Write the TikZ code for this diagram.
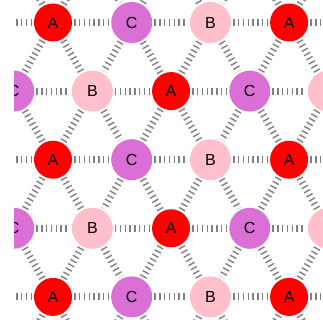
\documentclass[tikz,border=0pt]{standalone}
\usepackage{fontspec}
\setmainfont{Liberation Sans}
\definecolor{cA}{HTML}{FF0000}
\definecolor{cB}{HTML}{FFC0CB}
\definecolor{cC}{HTML}{DA70D6}
\definecolor{linkgray}{HTML}{808080}
\pgfdeclarelayer{background}
\pgfsetlayers{background,main}
\begin{document}
\begin{tikzpicture}[x=1pt,y=-1pt,
  site/.style={circle,inner sep=0pt,font=\fontsize{16}{16}\selectfont},
  siteA/.style={site,fill=cA,minimum size=38pt},
  siteB/.style={site,fill=cB,minimum size=41pt},
  siteC/.style={site,fill=cC,minimum size=41pt},
  link/.style={draw=linkgray,line width=7pt,dash pattern=on 1.4pt off 3.4pt,shorten >=2pt,shorten <=2pt}]
\useasboundingbox (0,0) rectangle (323,320);
\begin{scope}
\clip (14,0) rectangle (323,320);
\foreach \j in {0,...,6}{
  \foreach \i in {0,...,6}{
    \pgfmathtruncatemacro\od{iseven(\j)}
    \pgfmathsetmacro\xx{53+78.7*(\i-1)-39.35*\od}
    \pgfmathsetmacro\yy{22.5+68.6*(\j-1)}
    \pgfmathtruncatemacro\lab{mod(\i+2+\od,3)}
    \ifcase\lab \def\lt{A}\or \def\lt{C}\or \def\lt{B}\fi
    \node[site\lt] (n\i-\j) at (\xx,\yy) {\lt};
  }
}
\end{scope}
\begin{pgfonlayer}{background}
\fill[white] (0,0) rectangle (323,320);
\begin{scope}
\clip (14,0) rectangle (323,320);
\foreach \j in {0,...,6}{
  \foreach \i in {0,...,5}{
    \pgfmathtruncatemacro\ip{\i+1}
    \draw[link] (n\i-\j) -- (n\ip-\j);
  }
}
\foreach \j in {0,...,5}{
  \pgfmathtruncatemacro\jp{\j+1}
  \foreach \i in {0,...,6}{
    \draw[link] (n\i-\j) -- (n\i-\jp);
    \ifodd\j \pgfmathtruncatemacro\k{\i+1}\else \pgfmathtruncatemacro\k{\i-1}\fi
    \ifnum\k>-1 \ifnum\k<7 \draw[link] (n\i-\j) -- (n\k-\jp); \fi\fi
  }
}
\end{scope}
\end{pgfonlayer}
\end{tikzpicture}
\end{document}
